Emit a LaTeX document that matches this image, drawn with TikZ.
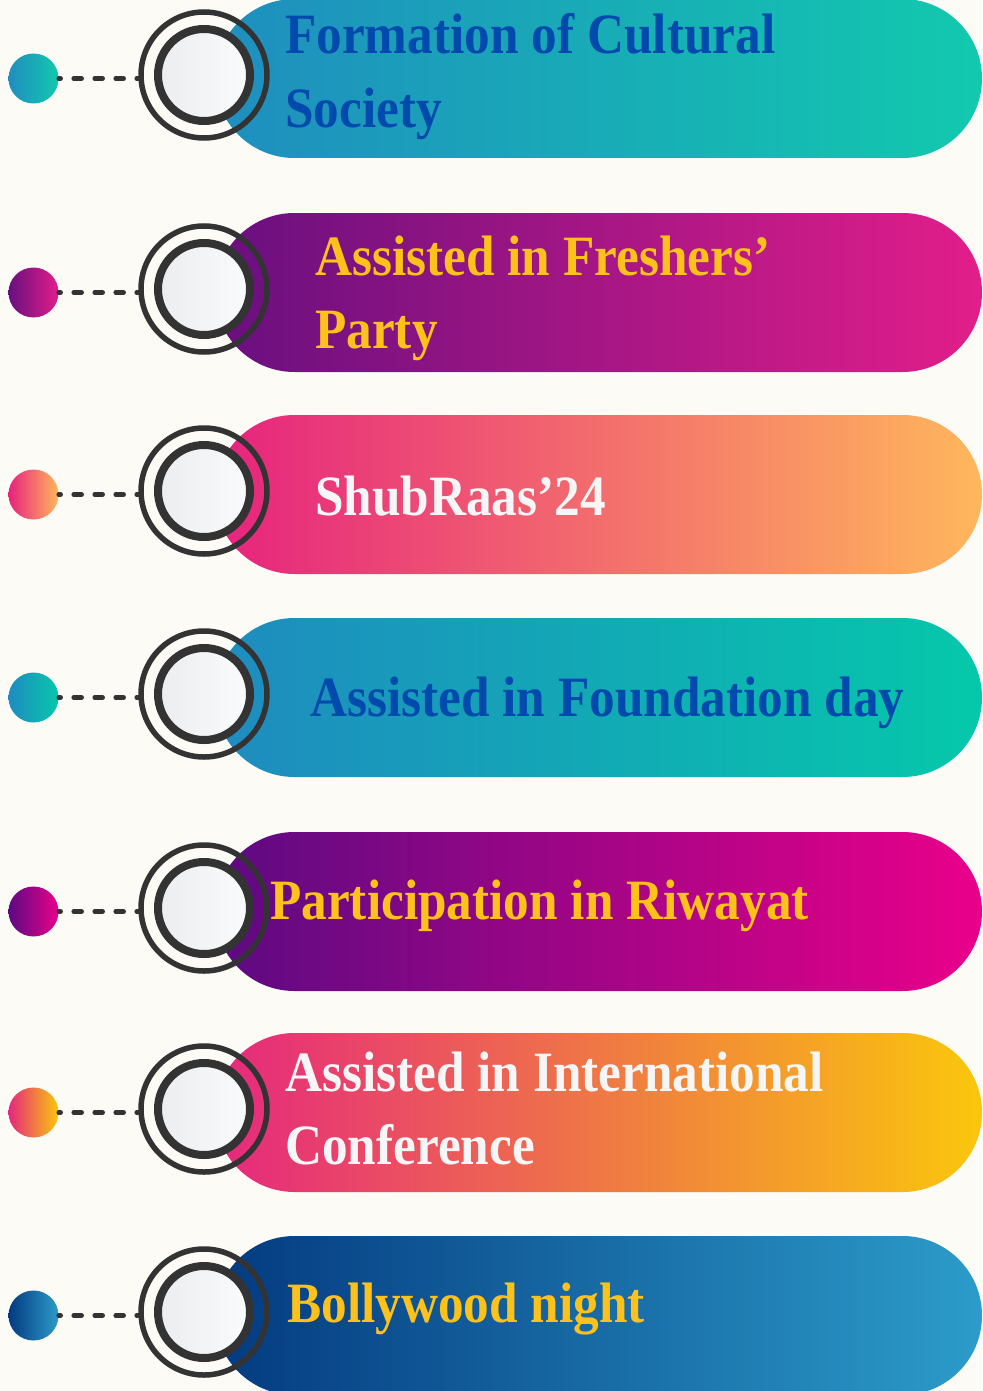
\documentclass[tikz,border=0pt]{standalone}
\usepackage{fontspec}
\newfontfamily\lbl{Liberation Serif}[FakeStretch=0.9]
\usetikzlibrary{shapes.misc}
\definecolor{bg}{HTML}{FDFBF6}
\definecolor{ringc}{HTML}{333333}
\definecolor{faceL}{HTML}{ECEDEF}
\definecolor{faceR}{HTML}{FAFBFC}
\definecolor{blueT}{HTML}{004AAD}
\definecolor{yelT}{HTML}{FCC21B}
\definecolor{whiT}{HTML}{F6F6F6}
\definecolor{aL}{HTML}{1F8EBF}\definecolor{aR}{HTML}{12C9AE}
\definecolor{bL}{HTML}{690F7F}\definecolor{bR}{HTML}{E21E8A}
\definecolor{cL}{HTML}{E6237E}\definecolor{cR}{HTML}{FFB75C}
\definecolor{dL}{HTML}{1F8BC0}\definecolor{dR}{HTML}{05C8AA}
\definecolor{eL}{HTML}{5C0A82}\definecolor{eR}{HTML}{EA008A}
\definecolor{fL}{HTML}{E5287E}\definecolor{fR}{HTML}{FAC70C}
\definecolor{gL}{HTML}{043A80}\definecolor{gR}{HTML}{2C9CCA}
\tikzset{
  pill/.style={rounded rectangle, minimum width=767pt, minimum height=159pt, inner sep=0pt, draw=none},
  dot/.style={circle, minimum size=50pt, inner sep=0pt, draw=none},
  ring/.style={circle, minimum size=126pt, inner sep=0pt, draw=ringc, line width=5.5pt},
  face/.style={circle, minimum size=92pt, inner sep=0pt, draw=ringc, line width=8pt, left color=faceL, right color=faceR},
  link/.style={draw=ringc, line width=4.5pt, line cap=round, dash pattern=on 8pt off 13pt, dash phase=6pt},
  lab/.style={anchor=base west, inner sep=0pt, font=\lbl\bfseries\fontsize{57}{73}\selectfont},
}
\newcommand\tlrow[4]{%
  \node[pill, left color=#3, right color=#4] (p#1) at (598.5,#2) {};
  \node[dot, left color=#3, right color=#4] (d#1) at (33.5,#2) {};
  \node[ring] (r#1) at (204,#2-3.5) {};
  \node[face] (f#1) at (r#1.center) {};
  \draw[link] (d#1.east) -- (d#1.east -| r#1.west);
}
\begin{document}
\begin{tikzpicture}[x=1pt,y=-1pt]
  \fill[bg] (0,0) rectangle (982,1391);
  \useasboundingbox (0,0) rectangle (982,1391);
  \tlrow{1}{78.5}{aL}{aR}
  \tlrow{2}{292.5}{bL}{bR}
  \tlrow{3}{494.5}{cL}{cR}
  \tlrow{4}{697.5}{dL}{dR}
  \tlrow{5}{911.5}{eL}{eR}
  \tlrow{6}{1112.5}{fL}{fR}
  \tlrow{7}{1315.5}{gL}{gR}
  \node[lab, text=blueT] (t1a) at (285,54) {Formation of Cultural};
  \node[lab, text=blueT] (t1b) at (285,128) {Society};
  \node[lab, text=yelT] (t2a) at (315,275) {Assisted in Freshers’};
  \node[lab, text=yelT] (t2b) at (315,348) {Party};
  \node[lab, text=whiT] (t3) at (315,515) {ShubRaas’24};
  \node[lab, text=blueT] (t4) at (310,716) {Assisted in Foundation day};
  \node[lab, text=yelT] (t5) at (270,919) {Participation in Riwayat};
  \node[lab, text=whiT] (t6a) at (285,1091) {Assisted in International};
  \node[lab, text=whiT] (t6b) at (285,1164) {Conference};
  \node[lab, text=yelT] (t7) at (287,1322) {Bollywood night};
\end{tikzpicture}
\end{document}
